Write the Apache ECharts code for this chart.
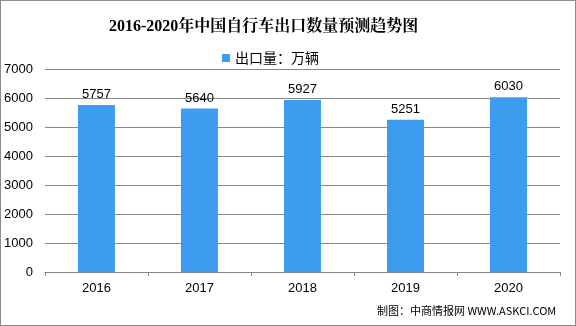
<!DOCTYPE html>
<html><head><meta charset="utf-8">
<script src="https://cdn.jsdelivr.net/npm/echarts@6/dist/echarts.min.js"></script>
<style>html,body{margin:0;padding:0;background:#fff}#c{width:576px;height:326px;box-sizing:border-box;border:1px solid #8c8c8c}</style>
</head><body><div id="c"></div>
<script>
const categories = ['2016','2017','2018','2019','2020'];
const values = [5757, 5640, 5927, 5251, 6030];
const seriesName = '出口量：万辆';
const titleText = '2016-2020年中国自行车出口数量预测趋势图';
const sourceText = '制图：中商情报网 WWW.ASKCI.COM';

const chart = echarts.init(document.getElementById('c'), null, {renderer:'canvas'});
chart.setOption({
  animation:false,
  backgroundColor:'#fff',
  title:{text:titleText, left:103, top:13,
    textStyle:{fontFamily:'"Liberation Serif","Noto Serif CJK SC","Noto Sans CJK SC",serif', fontSize:16, fontWeight:'bold', color:'#000'}},
  legend:{data:[seriesName], top:45, left:216, icon:'rect', itemWidth:8, itemHeight:8, itemGap:4,
    textStyle:{fontFamily:'"Noto Sans CJK SC",sans-serif', fontSize:14, color:'#000'}},
  graphic:[{type:'text', left:376, top:304, style:{text:sourceText, fontFamily:'"Noto Sans CJK SC","DejaVu Sans Mono",sans-serif', fontSize:11, fill:'#000'}}],
  grid:{left:43, right:15, top:68, bottom:53},
  xAxis:{type:'category', data:categories,
    axisLine:{lineStyle:{color:'#888'}},
    axisTick:{show:true, length:4, lineStyle:{color:'#888'}},
    axisLabel:{color:'#000', fontSize:13, margin:10, fontFamily:'"Liberation Sans",sans-serif'}},
  yAxis:{type:'value', min:0, max:7000, interval:1000,
    axisLine:{show:false}, axisTick:{show:false},
    axisLabel:{color:'#000', fontSize:13, margin:12, fontFamily:'"Liberation Sans",sans-serif', formatter:v=>String(v)},
    splitLine:{lineStyle:{color:'#888', width:1}}},
  series:[{name:seriesName, type:'bar', data:values, barWidth:37,
    itemStyle:{color:'#3d9cf0'},
    label:{show:true, position:'top', color:'#000', fontSize:13, distance:4, fontFamily:'"Liberation Sans",sans-serif'}}]
});
</script></body></html>
